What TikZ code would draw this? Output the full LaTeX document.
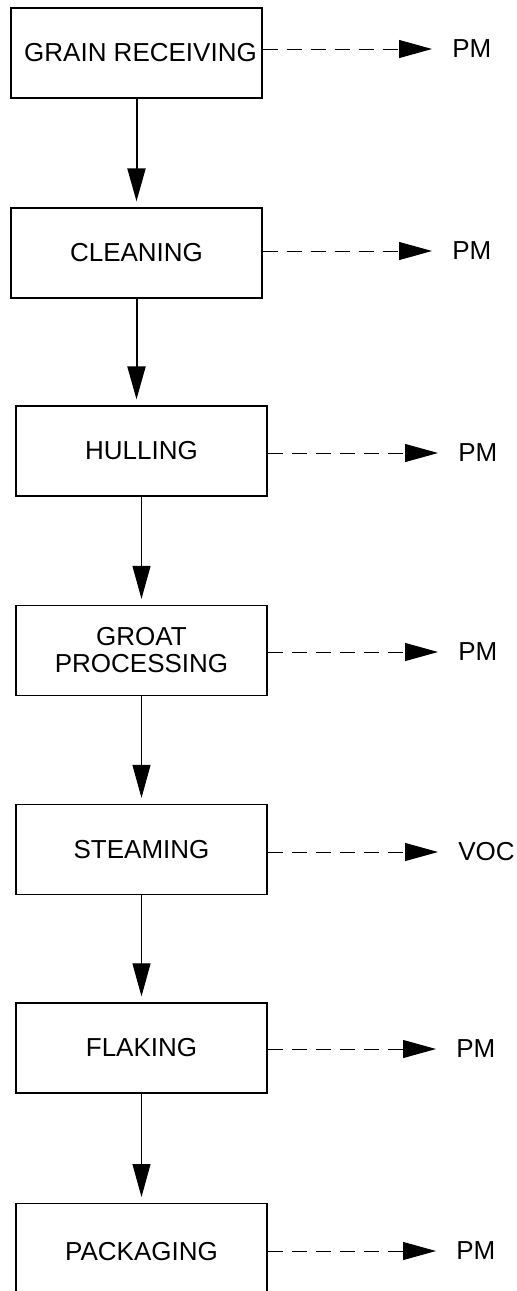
\documentclass[tikz,border=0pt]{standalone}
\usepackage{fontspec}
\setmainfont{Liberation Sans}
\usetikzlibrary{arrows.meta, positioning}

\tikzset{
  stepbox/.style={draw, line width=0.6pt, minimum width=125.5pt, minimum height=45pt,
                  align=center, font=\fontsize{13}{13.5}\selectfont},
  emis/.style={anchor=west, inner sep=0pt, font=\fontsize{13}{13.5}\selectfont},
  flow/.style={-{Triangle[length=16.5pt, width=9pt]}, line width=1pt, shorten >=3pt},
  flowthin/.style={flow, line width=0.5pt},
  release/.style={-{Triangle[length=16.5pt, width=9pt]}, line width=0.5pt,
                  dash pattern=on 7.5pt off 4.5pt, shorten >=10pt}
}

\begin{document}
\begin{tikzpicture}[x=0.5pt, y=-0.5pt]
\useasboundingbox (0,0) rectangle (516,1291);

% process steps
\node[stepbox, inner xsep=0pt] (grain) at (136.5,53) {\hspace*{4pt}GRAIN RECEIVING};
\node[stepbox] (cleaning) at (136.5,253)  {CLEANING};
\node[stepbox] (hulling)  at (141.5,451)  {HULLING};
\node[stepbox] (groat)    at (141.5,650.5) {GROAT\\PROCESSING};
\node[stepbox] (steaming) at (141.5,849.5) {STEAMING};
\node[stepbox] (flaking)  at (141.5,1048) {FLAKING};
\node[stepbox, anchor=north, minimum height=48pt] (packaging) at (141.5,1203) {PACKAGING};

% emissions
\node[emis] (pm1) at (452,49)   {PM};
\node[emis] (pm2) at (452,251)  {PM};
\node[emis] (pm3) at (458,453)  {PM};
\node[emis] (pm4) at (458,652)  {PM};
\node[emis] (voc) at (458,852)  {VOC};
\node[emis] (pm6) at (456,1049) {PM};
\node[emis] (pm7) at (456,1251) {PM};

% main flow
\draw[flow] (grain.south) -- (grain.south |- cleaning.north);
\draw[flow] (cleaning.south) -- (cleaning.south |- hulling.north);
\draw[flowthin] (hulling.south) -- (groat.north);
\draw[flowthin] (groat.south) -- (steaming.north);
\draw[flowthin] (steaming.south) -- (flaking.north);
\draw[flowthin] (flaking.south) -- (packaging.north);

% releases
\draw[release] (grain.east |- pm1.west) -- (pm1.west);
\draw[release] (cleaning.east |- pm2.west) -- (pm2.west);
\draw[release] (hulling.east |- pm3.west) -- (pm3.west);
\draw[release] (groat.east |- pm4.west) -- (pm4.west);
\draw[release] (steaming.east |- voc.west) -- (voc.west);
\draw[release] (flaking.east |- pm6.west) -- (pm6.west);
\draw[release] (packaging.east |- pm7.west) -- (pm7.west);
\end{tikzpicture}
\end{document}
